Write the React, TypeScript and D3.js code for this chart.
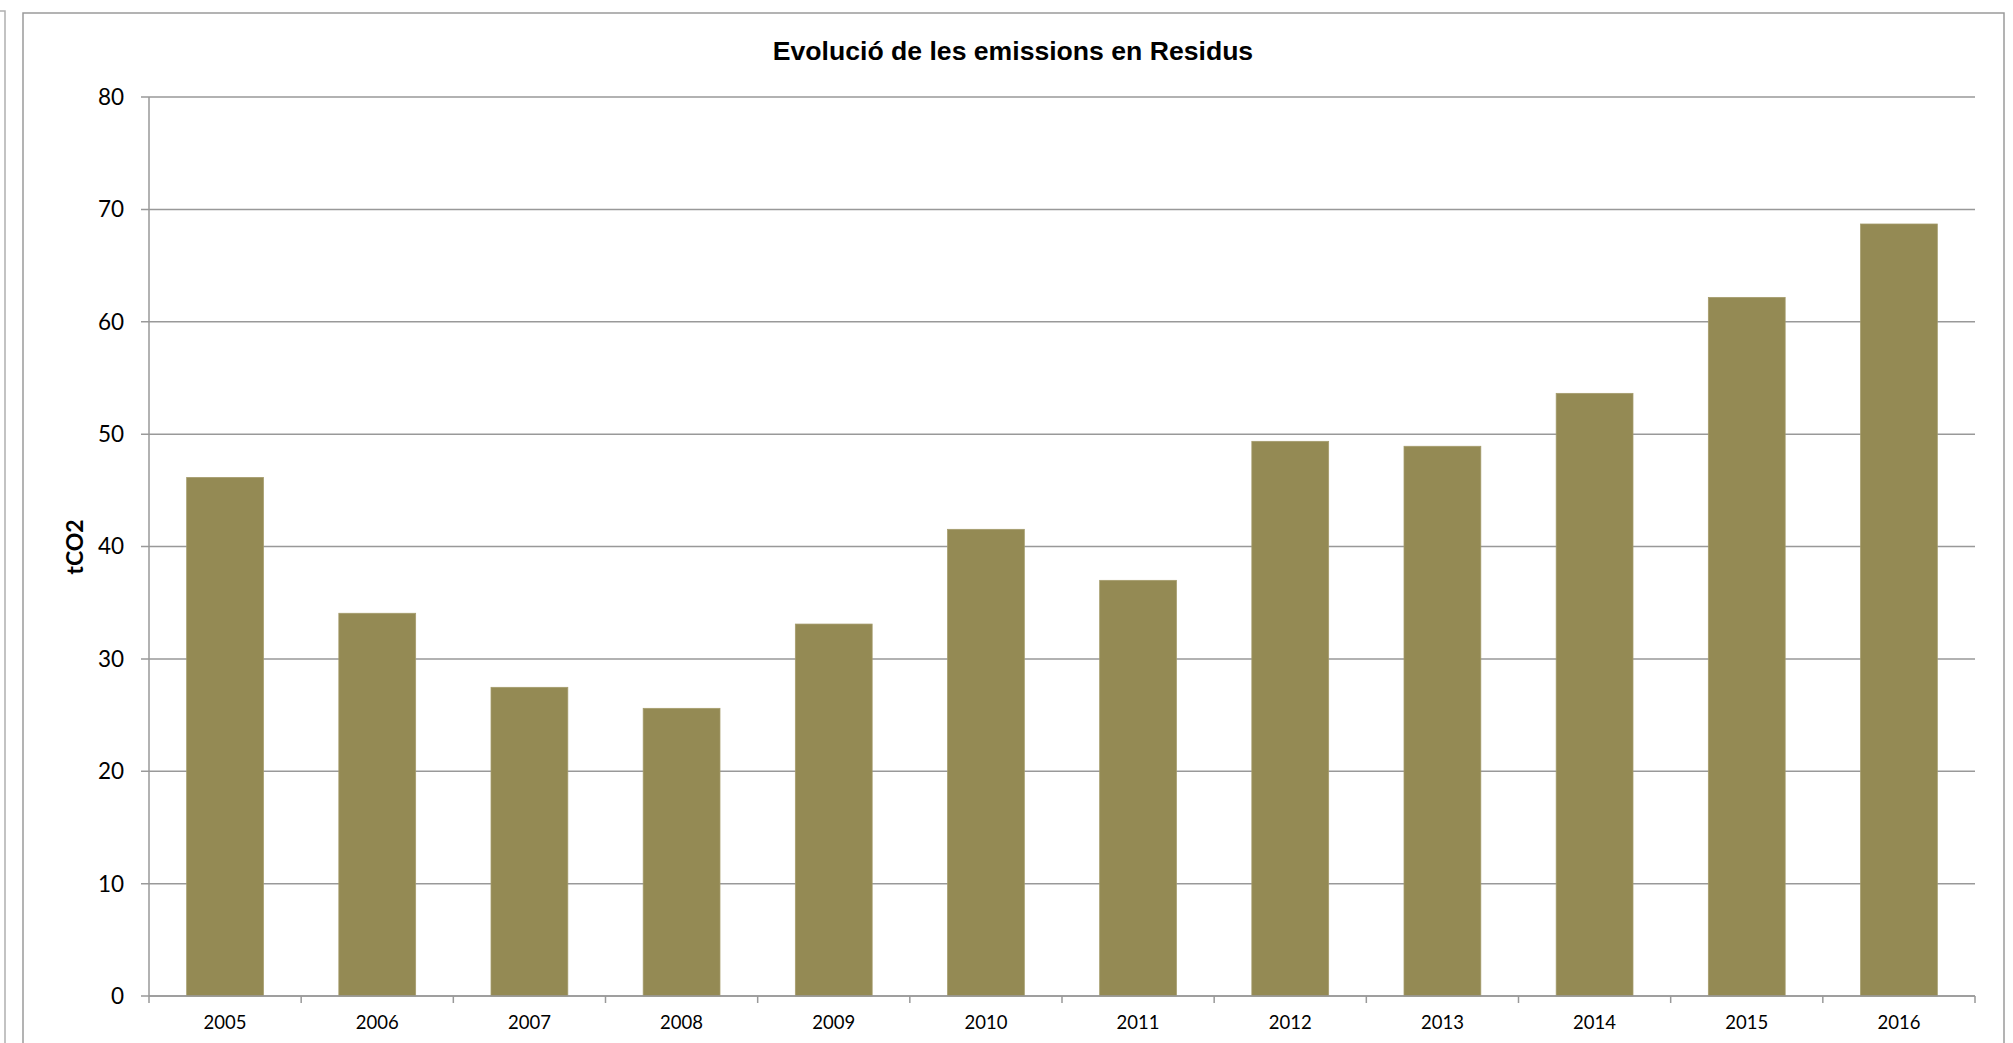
import React from "react";
import * as d3 from "d3";

const categories = ["2005", "2006", "2007", "2008", "2009", "2010", "2011", "2012", "2013", "2014", "2015", "2016"];
const values = [46.15, 34.06, 27.47, 25.6, 33.1, 41.53, 36.99, 49.36, 48.92, 53.63, 62.17, 68.7];
const yTicks = [0, 10, 20, 30, 40, 50, 60, 70, 80];
const title = "Evolució de les emissions en Residus";
const yLabel = "tCO2";

const W = 2013;
const H = 1043;
const plot = { left: 149, right: 1975, top: 97, bottom: 996 };
const gridColor = "#999999";
const barColor = "#948A54";
const labelFont = "Lato, 'Open Sans', sans-serif";

export default function App() {
  const x = d3
    .scaleBand<string>()
    .domain(categories)
    .range([plot.left, plot.right])
    .paddingInner(0.495)
    .paddingOuter(0.2475);
  const y = d3.scaleLinear().domain([0, 80]).range([plot.bottom, plot.top]);
  const step = x.step();
  const boundaries = d3.range(categories.length + 1).map((i) => plot.left + i * step);

  return (
    <svg
      width={W}
      height={H}
      style={{ position: "absolute", left: 0, top: 0, background: "#fff" }}
    >
      <rect x={0} y={0} width={W} height={H} fill="#fff" />
      {/* neighbouring frame edge */}
      <path d={`M0,11 H5 V${H}`} fill="none" stroke="#b0b0b0" strokeWidth={1.5} />
      {/* chart frame */}
      <path d={`M23,${H} V13 H2004 V${H}`} fill="none" stroke="#9a9a9a" strokeWidth={1.5} />

      <text
        x={1013}
        y={60}
        textAnchor="middle"
        fontFamily="'Liberation Sans', Arial, sans-serif"
        fontWeight="bold"
        fontSize={26.6}
        fill="#000"
      >
        {title}
      </text>

      {/* gridlines */}
      {yTicks.map((t) => (
        <line
          key={"g" + t}
          x1={plot.left - 8}
          x2={plot.right}
          y1={y(t)}
          y2={y(t)}
          stroke={gridColor}
          strokeWidth={1.5}
        />
      ))}

      {/* bars */}
      {values.map((v, i) => (
        <rect
          key={categories[i]}
          x={x(categories[i])}
          y={y(v)}
          width={x.bandwidth()}
          height={y(0) - y(v)}
          fill={barColor}
          stroke="#a59c6c"
          strokeWidth={0.75}
        />
      ))}

      {/* y axis */}
      <line x1={plot.left} x2={plot.left} y1={plot.top} y2={plot.bottom} stroke={gridColor} strokeWidth={1.5} />
      {/* x axis */}
      <line x1={plot.left} x2={plot.right} y1={plot.bottom} y2={plot.bottom} stroke={gridColor} strokeWidth={1.5} />
      {boundaries.map((bx, i) => (
        <line key={"t" + i} x1={bx} x2={bx} y1={plot.bottom} y2={plot.bottom + 7} stroke={gridColor} strokeWidth={1.5} />
      ))}

      {yTicks.map((t) => (
        <text
          key={"yl" + t}
          x={124}
          y={y(t)}
          dy="0.35em"
          textAnchor="end"
          fontFamily={labelFont}
          fontSize={22.5}
          fill="#000"
        >
          {t}
        </text>
      ))}

      {categories.map((c) => (
        <text
          key={"xl" + c}
          x={(x(c) as number) + x.bandwidth() / 2}
          y={1023}
          dy="0.35em"
          textAnchor="middle"
          fontFamily={labelFont}
          fontSize={18.5}
          fill="#000"
        >
          {c}
        </text>
      ))}

      <text
        transform={`translate(75,547) rotate(-90)`}
        textAnchor="middle"
        dy="0.35em"
        fontFamily={labelFont}
        fontWeight="bold"
        fontSize={23}
        fill="#000"
      >
        {yLabel}
      </text>
    </svg>
  );
}
